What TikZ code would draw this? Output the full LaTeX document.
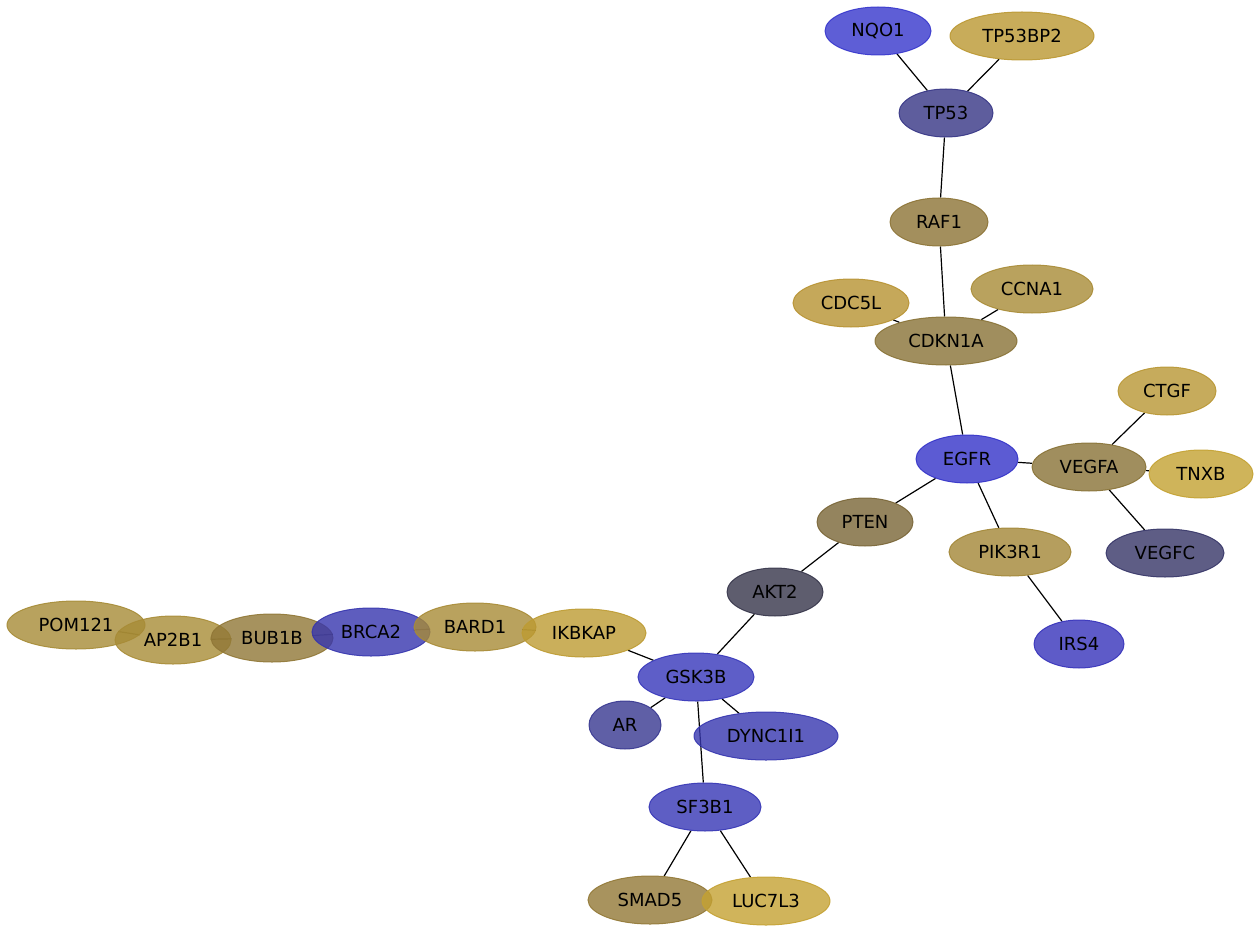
\documentclass[tikz,border=0pt]{standalone}
\usepackage{fontspec}
\setmainfont{DejaVu Sans}
\usetikzlibrary{shapes.geometric}
\pgfdeclarelayer{background}
\pgfsetlayers{background,main}
\definecolor{cNQO1}{RGB}{54,54,204}
\definecolor{cTP53}{RGB}{54,53,133}
\definecolor{cGSK3B}{RGB}{54,54,186}
\definecolor{cAR}{RGB}{55,55,144}
\definecolor{cVEGFC}{RGB}{54,53,103}
\definecolor{cAKT2}{RGB}{54,53,74}
\definecolor{cIRS4}{RGB}{54,50,186}
\definecolor{cDYNC}{RGB}{54,54,175}
\definecolor{cSF3B1}{RGB}{54,54,181}
\definecolor{cBRCA2}{RGB}{54,53,174}
\definecolor{cEGFR}{RGB}{51,50,200}
\definecolor{cTP53BP2}{RGB}{186,151,49}
\definecolor{cRAF1}{RGB}{140,115,53}
\definecolor{cCDC5L}{RGB}{183,146,49}
\definecolor{cCCNA1}{RGB}{168,139,54}
\definecolor{cCDKN1A}{RGB}{136,114,54}
\definecolor{cCTGF}{RGB}{184,150,51}
\definecolor{cTNXB}{RGB}{195,161,49}
\definecolor{cPTEN}{RGB}{121,101,54}
\definecolor{cPIK3R1}{RGB}{162,134,54}
\definecolor{cPOM}{RGB}{166,139,54}
\definecolor{cAP2B1}{RGB}{168,140,54}
\definecolor{cBUB1B}{RGB}{144,119,54}
\definecolor{cBARD1}{RGB}{168,139,54}
\definecolor{cIKBKAP}{RGB}{189,155,50}
\definecolor{cSMAD5}{RGB}{146,120,54}
\definecolor{cLUC}{RGB}{196,161,50}
\tikzset{
  gene/.style={ellipse, inner sep=0pt, minimum height=48, fill=#1, draw=#1, fill opacity=0.8, draw opacity=0.9, text opacity=1, line width=1, font=\fontsize{18}{20}\selectfont},
  link/.style={line width=1.2, black}
}
\begin{document}
\begin{tikzpicture}[x=1pt,y=-1pt]
\useasboundingbox (0,0) rectangle (1260,933);
\path
 (878,31) node[gene=cNQO1, minimum width=106] (NQO1) {NQO1}
 (1022,36) node[gene=cTP53BP2, minimum width=144] (TP53BP2) {TP53BP2}
 (946,113) node[gene=cTP53, minimum width=94] (TP53) {TP53}
 (939,222) node[gene=cRAF1, minimum width=98] (RAF1) {RAF1}
 (851,303) node[gene=cCDC5L, minimum width=116] (CDC5L) {CDC5L}
 (1032,289) node[gene=cCCNA1, minimum width=122] (CCNA1) {CCNA1}
 (946,341) node[gene=cCDKN1A, minimum width=142] (CDKN1A) {CDKN1A}
 (1167,391) node[gene=cCTGF, minimum width=98] (CTGF) {CTGF}
 (967,459) node[gene=cEGFR, minimum width=102] (EGFR) {EGFR}
 (1089,467) node[gene=cCDKN1A, minimum width=114] (VEGFA) {VEGFA}
 (1201,474) node[gene=cTNXB, minimum width=104] (TNXB) {TNXB}
 (865,522) node[gene=cPTEN, minimum width=96] (PTEN) {PTEN}
 (1010,552) node[gene=cPIK3R1, minimum width=122] (PIK3R1) {PIK3R1}
 (1165,553) node[gene=cVEGFC, minimum width=118] (VEGFC) {VEGFC}
 (775,592) node[gene=cAKT2, minimum width=96] (AKT2) {AKT2}
 (1079,644) node[gene=cIRS4, minimum width=90] (IRS4) {IRS4}
 (76,625) node[gene=cPOM, minimum width=138] (POM121) {POM121}
 (173,640) node[gene=cAP2B1, minimum width=116] (AP2B1) {AP2B1}
 (272,638) node[gene=cBUB1B, minimum width=122] (BUB1B) {BUB1B}
 (371,632) node[gene=cBRCA2, minimum width=118] (BRCA2) {BRCA2}
 (475,627) node[gene=cBARD1, minimum width=122] (BARD1) {BARD1}
 (584,633) node[gene=cIKBKAP, minimum width=124] (IKBKAP) {IKBKAP}
 (696,677) node[gene=cGSK3B, minimum width=116] (GSK3B) {GSK3B}
 (625,725) node[gene=cAR, minimum width=72] (AR) {AR}
 (766,736) node[gene=cDYNC, minimum width=144] (DYNC1I1) {DYNC1I1}
 (705,807) node[gene=cSF3B1, minimum width=112] (SF3B1) {SF3B1}
 (650,900) node[gene=cSMAD5, minimum width=124] (SMAD5) {SMAD5}
 (766,901) node[gene=cLUC, minimum width=128] (LUC7L3) {LUC7L3};
\begin{pgfonlayer}{background}
\begin{scope}[link]
\draw (NQO1) -- (TP53);
\draw (TP53BP2) -- (TP53);
\draw (TP53) -- (RAF1);
\draw (RAF1) -- (CDKN1A);
\draw (CDC5L) -- (CDKN1A);
\draw (CCNA1) -- (CDKN1A);
\draw (CDKN1A) -- (EGFR);
\draw (EGFR) -- (VEGFA);
\draw (VEGFA) -- (CTGF);
\draw (VEGFA) -- (TNXB);
\draw (VEGFA) -- (VEGFC);
\draw (EGFR) -- (PTEN);
\draw (EGFR) -- (PIK3R1);
\draw (PIK3R1) -- (IRS4);
\draw (PTEN) -- (AKT2);
\draw (AKT2) -- (GSK3B);
\draw (IKBKAP) -- (GSK3B);
\draw (GSK3B) -- (AR);
\draw (GSK3B) -- (DYNC1I1);
\draw (GSK3B) -- (SF3B1);
\draw (SF3B1) -- (SMAD5);
\draw (SF3B1) -- (LUC7L3);
\draw (POM121) -- (AP2B1);
\draw (AP2B1) -- (BUB1B);
\draw (BUB1B) -- (BRCA2);
\draw (BRCA2) -- (BARD1);
\draw (BARD1) -- (IKBKAP);
\end{scope}
\end{pgfonlayer}
\end{tikzpicture}
\end{document}
